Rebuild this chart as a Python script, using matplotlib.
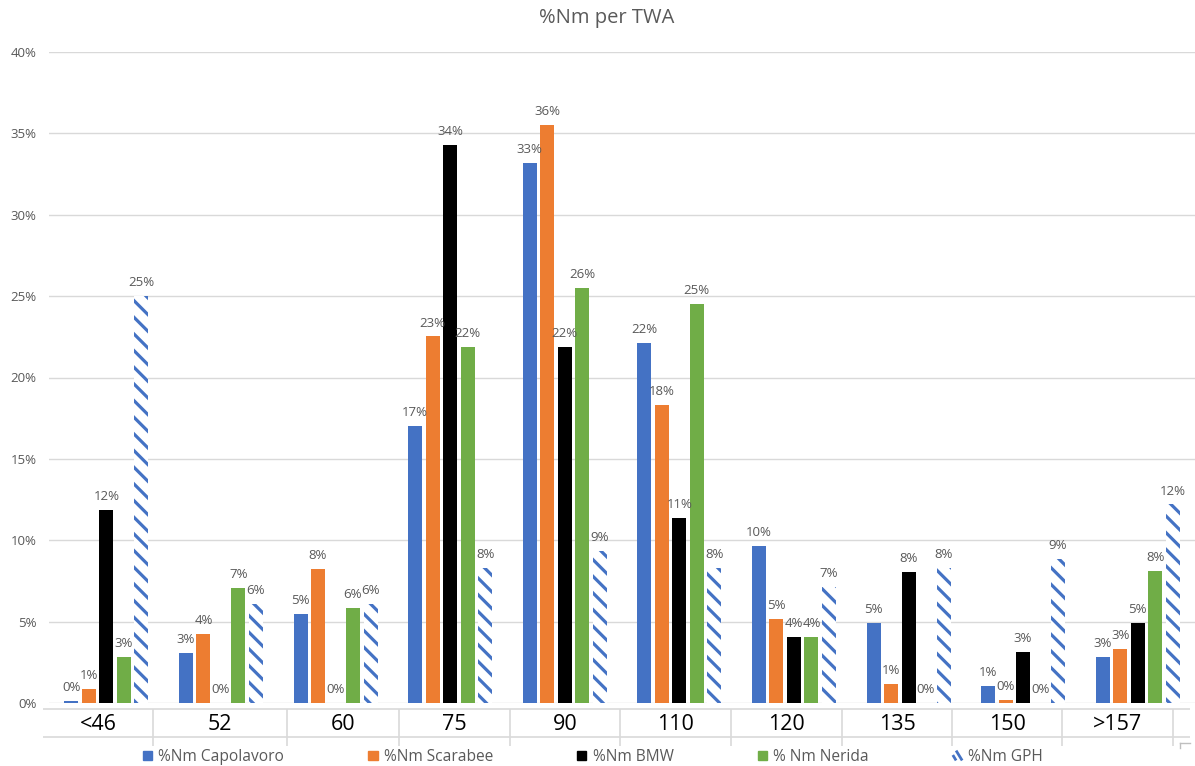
"""Share of nautical miles sailed per true wind angle, one bar per boat."""

import matplotlib
matplotlib.use("Agg")
import matplotlib.pyplot as plt
from matplotlib.legend_handler import HandlerBase
from matplotlib.lines import Line2D
from matplotlib.patches import Patch
from matplotlib.ticker import PercentFormatter

# ---------------------------------------------------------------------------
# Data
# ---------------------------------------------------------------------------

twa = ["<46", "52", "60", "75", "90", "110", "120", "135", "150", ">157"]

capolavoro = [0.0015, 0.031, 0.0547, 0.170, 0.3319, 0.2215, 0.0966, 0.049, 0.0106, 0.0284]
scarabee = [0.0086, 0.0422, 0.0821, 0.2252, 0.3553, 0.183, 0.0514, 0.0115, 0.0018, 0.0332]
bmw = [0.1186, 0.0, 0.0, 0.343, 0.2185, 0.1135, 0.0407, 0.0805, 0.0315, 0.0491]
nerida = [0.028, 0.0706, 0.0584, 0.2185, 0.2552, 0.2452, 0.0407, 0.0, 0.0, 0.0813]
gph = [0.25, 0.0608, 0.0608, 0.0827, 0.0936, 0.0827, 0.0713, 0.0827, 0.0883, 0.122]

series = [
    ("%Nm Capolavoro", capolavoro),
    ("%Nm Scarabee", scarabee),
    ("%Nm BMW", bmw),
    ("% Nm Nerida", nerida),
    ("%Nm GPH", gph),
]

# ---------------------------------------------------------------------------
# Styling
# ---------------------------------------------------------------------------

W, H = 1195, 766
TEXT = "#595959"
GRID = "#D9D9D9"
BLUE = "#4472C4"
styles = [
    dict(color=BLUE),
    dict(color="#ED7D31"),
    dict(color="#000000"),
    dict(color="#70AD47"),
    dict(facecolor="white", edgecolor=BLUE, hatch="\\\\", linewidth=0),
]

plt.rcParams["font.family"] = ["Open Sans", "DejaVu Sans"]
plt.rcParams["hatch.linewidth"] = 2.3


class StripeHandler(HandlerBase):
    """Legend key for the hatched series: a couple of diagonal strokes."""

    def create_artists(self, legend, orig_handle, xdescent, ydescent,
                       width, height, fontsize, trans):
        x0, y0 = -xdescent, -ydescent
        segs = [((0.0, 0.55), (0.35, 0.0)), ((0.35, 1.0), (1.0, 0.0))]
        out = []
        for (ax0, ay0), (ax1, ay1) in segs:
            ln = Line2D([x0 + ax0 * width, x0 + ax1 * width],
                        [y0 + ay0 * height, y0 + ay1 * height],
                        color=BLUE, linewidth=2.0, solid_capstyle="butt",
                        transform=trans)
            out.append(ln)
        return out


fig = plt.figure(figsize=(W / 100, H / 100), dpi=100)

# plot area in pixel terms: x 49..1195, y 52 (40%) .. 703 (0%)
ax = fig.add_axes([49 / W, (H - 703) / H, (W - 49) / W, (703 - 52) / H])

n = len(series)
slot = 17.5 / 114.6
width = 14 / 114.6
for i, ((name, vals), st) in enumerate(zip(series, styles)):
    xs = [k + (i - (n - 1) / 2) * slot for k in range(len(twa))]
    bars = ax.bar(xs, vals, width=width, label=name, zorder=2, **st)
    for rect, v in zip(bars, vals):
        ax.annotate(f"{v:.0%}", (rect.get_x() + rect.get_width() / 2, v),
                    xytext=(0, 5), textcoords="offset points",
                    ha="center", va="bottom", fontsize=9.5, color=TEXT)

ax.set_xlim(-0.5, len(twa) - 0.5)
ax.set_ylim(0, 0.40)
ax.set_yticks([i * 0.05 for i in range(9)])
ax.yaxis.set_major_formatter(PercentFormatter(1.0, decimals=0))
ax.tick_params(axis="y", length=0, pad=9, labelsize=9.5, labelcolor=TEXT)
ax.set_xticks([])
ax.grid(axis="y", color=GRID, linewidth=1.0, zorder=0)
ax.set_axisbelow(True)
for sp in ax.spines.values():
    sp.set_visible(False)

# category row drawn as a small table under the axis
tab = fig.add_axes([0, 0, 1, 1])
tab.set_xlim(0, W)
tab.set_ylim(H, 0)
tab.axis("off")
tab.patch.set_alpha(0)

col_edges = [43, 153, 287, 399, 510, 620, 731, 842, 952, 1062, 1173]
tab.hlines([709, 737], 43, 1190, color=GRID, linewidth=1.2)
tab.vlines(col_edges[1:], 709, 746, color=GRID, linewidth=1.2)
tab.plot([1180, 1190], [743, 743], color="#BFBFBF", linewidth=1)
tab.plot([1180, 1180], [743, 748], color="#BFBFBF", linewidth=1)
for lab, x0, x1 in zip(twa, col_edges[:-1], col_edges[1:]):
    tab.text((x0 + x1) / 2, 724, lab, ha="center", va="center",
             fontsize=15.5, color="black")

fig.text(607 / W, 1 - 18 / H, "%Nm per TWA", ha="center", va="center",
         fontsize=14.5, color=TEXT)

handles = [Patch(label=name, **st) for (name, _), st in zip(series, styles)]
fig.legend(handles=handles, loc="center", bbox_to_anchor=(593 / W, 1 - 757 / H),
           ncol=5, frameon=False, fontsize=11.2, labelcolor=TEXT,
           handlelength=0.6, handleheight=0.6, handletextpad=0.4,
           columnspacing=5.4, borderpad=0,
           handler_map={handles[-1]: StripeHandler()})

fig.savefig("out.png", dpi=100)
